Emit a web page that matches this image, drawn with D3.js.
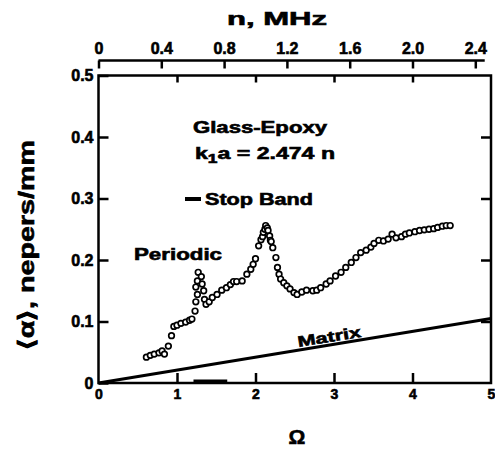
<!DOCTYPE html>
<html>
<head>
<meta charset="utf-8">
<script src="https://cdn.jsdelivr.net/npm/d3@7"></script>
<style>
  body { margin: 0; background: #fff; }
  svg text { font-family: "Liberation Sans", Arial, sans-serif; font-weight: bold; fill: #000; stroke: #000; stroke-width: 0.6; }
</style>
</head>
<body>
<div id="chart"></div>
<script>
// Glass-Epoxy attenuation vs. normalized frequency
var omega = [0.61, 0.66, 0.71, 0.77, 0.81, 0.84, 0.89, 0.93, 0.96, 1.00, 1.05, 1.11, 1.16, 1.19,
    1.23, 1.24, 1.26, 1.24, 1.26, 1.27, 1.31, 1.32, 1.34, 1.35, 1.37, 1.41, 1.45, 1.51, 1.57, 1.63,
    1.68, 1.72, 1.76, 1.83, 1.89, 1.94, 1.97, 2.00, 2.04, 2.07, 2.09, 2.10, 2.12, 2.13, 2.15, 2.16,
    2.18, 2.19, 2.20, 2.22, 2.26, 2.28, 2.30, 2.32, 2.36, 2.40, 2.44, 2.49, 2.53, 2.59, 2.65, 2.73,
    2.78, 2.83, 2.90, 2.95, 3.02, 3.09, 3.15, 3.22, 3.28, 3.34, 3.41, 3.47, 3.51, 3.57, 3.63, 3.69,
    3.74, 3.79, 3.86, 3.91, 3.96, 4.03, 4.09, 4.15, 4.21, 4.27, 4.32, 4.38, 4.43, 4.48]
var alpha = [0.042, 0.045, 0.047, 0.049, 0.052, 0.047, 0.060, 0.077, 0.092, 0.094, 0.097, 0.099, 0.102, 0.104,
    0.117, 0.132, 0.144, 0.156, 0.166, 0.180, 0.173, 0.161, 0.150, 0.136, 0.128, 0.132, 0.139, 0.144, 0.151, 0.155,
    0.160, 0.165, 0.165, 0.166, 0.177, 0.185, 0.193, 0.202, 0.223, 0.233, 0.238, 0.245, 0.250, 0.256, 0.252, 0.248,
    0.239, 0.232, 0.230, 0.220, 0.204, 0.188, 0.177, 0.169, 0.163, 0.158, 0.153, 0.147, 0.144, 0.148, 0.151, 0.150,
    0.151, 0.155, 0.161, 0.166, 0.174, 0.180, 0.188, 0.196, 0.204, 0.212, 0.216, 0.221, 0.227, 0.232, 0.231, 0.234,
    0.242, 0.236, 0.238, 0.242, 0.244, 0.246, 0.248, 0.249, 0.250, 0.251, 0.253, 0.255, 0.256, 0.256]

var matrixOmega = [0, 5]
var matrixAlpha = [0, 0.105]
var stopBand = [1.21, 1.64]

var xTicks = [0, 1, 2, 3, 4, 5]
var yTicks = [0, 0.1, 0.2, 0.3, 0.4, 0.5]
var nTicks = [0, 0.4, 0.8, 1.2, 1.6, 2.0, 2.4]

var width = 495,
    height = 449,
    plotLeft = 98.5,
    plotRight = 491,
    plotTop = 75.5,
    plotBottom = 383

var x = d3.scaleLinear().domain([0, 5]).range([plotLeft, plotRight])
var y = d3.scaleLinear().domain([0, 0.5]).range([plotBottom, plotTop])
var xn = d3.scaleLinear().domain([0, 2.5]).range([plotLeft, plotRight])

var svg = d3.select('#chart')
    .append('svg')
    .attr('width', width)
    .attr('height', height)

var fmt1 = function(d) { return d === 0 ? '0' : d3.format('.1f')(d) }

// frame
svg.append('rect')
    .attr('x', plotLeft).attr('y', plotTop)
    .attr('width', plotRight - plotLeft).attr('height', plotBottom - plotTop)
    .attr('fill', 'none').attr('stroke', '#000').attr('stroke-width', 2.5)

var styleAxis = function(g) {
    g.select('.domain').remove()
    g.selectAll('.tick line').attr('stroke', '#000').attr('stroke-width', 2.5)
    g.selectAll('.tick text').style('font-size', '16px')
}

// left axis
svg.append('g')
    .attr('transform', 'translate(' + plotLeft + ',0)')
    .call(d3.axisLeft(y).tickValues(yTicks).tickSize(-10).tickPadding(5).tickFormat(fmt1))
    .call(styleAxis)

// right axis (ticks only)
svg.append('g')
    .attr('transform', 'translate(' + plotRight + ',0)')
    .call(d3.axisRight(y).tickValues(yTicks.slice(1, 5)).tickSize(-10).tickFormat(''))
    .call(styleAxis)

// bottom axis
svg.append('g')
    .attr('transform', 'translate(0,' + plotBottom + ')')
    .call(d3.axisBottom(x).tickValues(xTicks).tickSize(-10).tickPadding(6).tickFormat(d3.format('d')))
    .call(styleAxis)
    .call(function(g) {
        g.selectAll('.tick text').style('font-size', '14px')
        g.selectAll('.tick line').filter(function(d) { return d === 0 || d === 5 }).remove()
    })

// top frame ticks
svg.append('g')
    .attr('transform', 'translate(0,' + plotTop + ')')
    .call(d3.axisTop(x).tickValues(xTicks.slice(1, 5)).tickSize(-7).tickFormat(''))
    .call(styleAxis)

// top n axis
var nAxisY = 60.5
svg.append('line')
    .attr('x1', xn(0)).attr('x2', xn(2.46))
    .attr('y1', nAxisY).attr('y2', nAxisY)
    .attr('stroke', '#000').attr('stroke-width', 2.5)
svg.append('g')
    .attr('transform', 'translate(0,' + nAxisY + ')')
    .call(d3.axisTop(xn).tickValues(nTicks).tickSize(-8).tickPadding(7).tickFormat(fmt1))
    .call(styleAxis)

// axis titles
svg.append('text')
    .attr('x', 277).attr('y', 25)
    .attr('text-anchor', 'middle')
    .attr('textLength', 100).attr('lengthAdjust', 'spacingAndGlyphs')
    .style('font-size', '18px')
    .text('n, MHz')

svg.append('text')
    .attr('x', 297).attr('y', 444)
    .attr('text-anchor', 'middle')
    .style('font-size', '21px')
    .text('Ω')

svg.append('text')
    .attr('transform', 'translate(34,245) rotate(-90)')
    .attr('text-anchor', 'middle')
    .attr('textLength', 210).attr('lengthAdjust', 'spacingAndGlyphs')
    .style('font-size', '22px')
    .text('⟨α⟩, nepers/mm')

// matrix line
svg.append('line')
    .attr('x1', x(matrixOmega[0])).attr('y1', y(matrixAlpha[0]))
    .attr('x2', x(matrixOmega[1])).attr('y2', y(matrixAlpha[1]))
    .attr('stroke', '#000').attr('stroke-width', 3)

var angle = Math.atan2(y(matrixAlpha[1]) - y(matrixAlpha[0]), x(matrixOmega[1]) - x(matrixOmega[0])) * 180 / Math.PI
var mx = 2.95
var my = matrixAlpha[1] / matrixOmega[1] * mx
svg.append('text')
    .attr('transform', 'translate(' + x(mx) + ',' + (y(my) - 3) + ') rotate(' + angle + ')')
    .attr('text-anchor', 'middle')
    .attr('textLength', 64).attr('lengthAdjust', 'spacingAndGlyphs')
    .style('font-size', '15px')
    .text('Matrix')

// stop band
svg.append('line')
    .attr('x1', x(stopBand[0])).attr('x2', x(stopBand[1]))
    .attr('y1', y(0) - 1.5).attr('y2', y(0) - 1.5)
    .attr('stroke', '#000').attr('stroke-width', 4)

// data points
svg.append('g').selectAll('circle')
    .data(d3.zip(omega, alpha))
    .enter()
    .append('circle')
    .attr('cx', function(d) { return x(d[0]) })
    .attr('cy', function(d) { return y(d[1]) })
    .attr('r', 2.8)
    .attr('fill', '#fff')
    .attr('stroke', '#000')
    .attr('stroke-width', 1.7)

// annotations
svg.append('text')
    .attr('x', 193).attr('y', 133)
    .attr('textLength', 134).attr('lengthAdjust', 'spacingAndGlyphs')
    .style('font-size', '16px')
    .text('Glass-Epoxy')

var k = svg.append('text')
    .attr('x', 195).attr('y', 159)
    .style('font-size', '16px')
k.append('tspan').text('k')
k.append('tspan').attr('dy', 4).style('font-size', '12px').text('1')
k.append('tspan').attr('dy', -4).text('a = 2.474 n')
k.attr('textLength', 140).attr('lengthAdjust', 'spacingAndGlyphs')

svg.append('line')
    .attr('x1', 185).attr('x2', 201)
    .attr('y1', 199).attr('y2', 199)
    .attr('stroke', '#000').attr('stroke-width', 4)
svg.append('text')
    .attr('x', 205).attr('y', 205)
    .attr('textLength', 108).attr('lengthAdjust', 'spacingAndGlyphs')
    .style('font-size', '16px')
    .text('Stop Band')

svg.append('text')
    .attr('x', 134).attr('y', 260)
    .attr('textLength', 88).attr('lengthAdjust', 'spacingAndGlyphs')
    .style('font-size', '16px')
    .text('Periodic')
</script>
</body>
</html>
